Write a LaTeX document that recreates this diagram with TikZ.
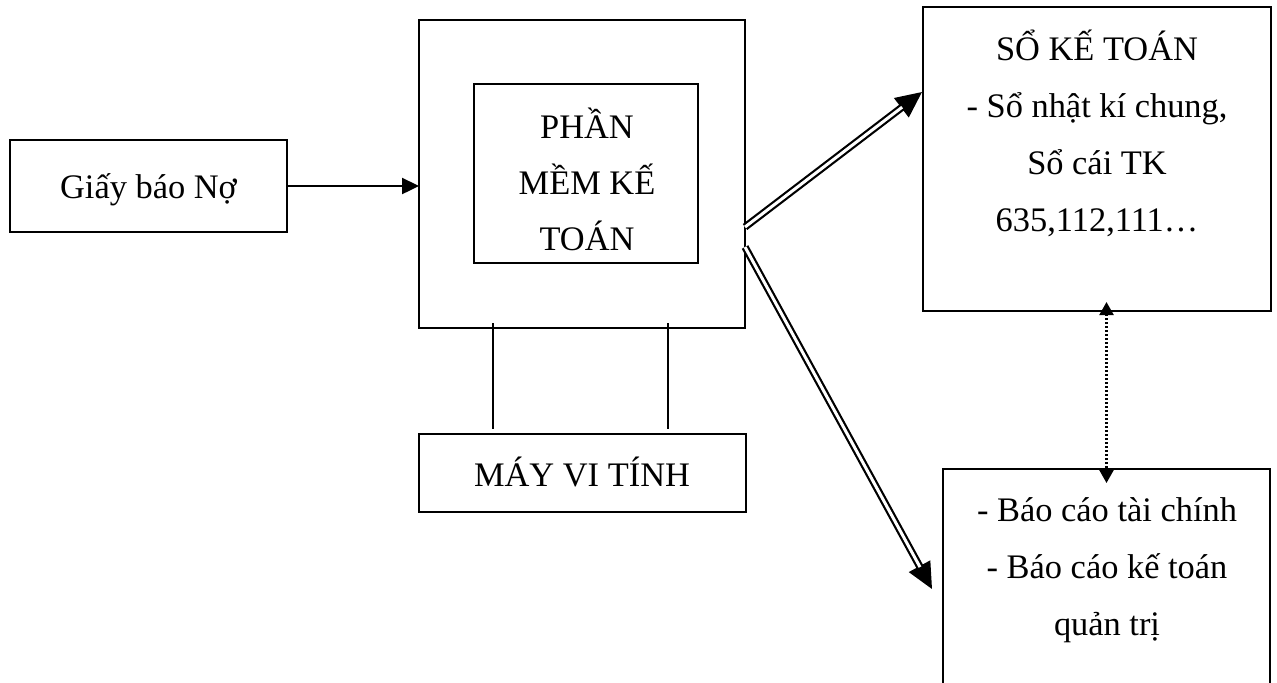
\documentclass[tikz,border=0pt]{standalone}
\usepackage{fontspec}
\setmainfont{Liberation Serif}
\usetikzlibrary{arrows.meta}
\begin{document}
\begin{tikzpicture}[x=0.5pt,y=-0.5pt,
  box/.style={draw, line width=1.2pt, inner sep=0pt, outer sep=0pt},
  lbl/.style={anchor=base, inner sep=0pt, font=\fontsize{17.2}{20}\selectfont},
  link/.style={line width=1.2pt},
  bigtip/.style={line width=1.1pt, -{Triangle[length=13pt,width=12pt]}},
  dbl/.style={line width=1.1pt, double, double distance=1.5pt, shorten >=12.5pt}]
\useasboundingbox (0,0) rectangle (1277,682);
\clip (0,0) rectangle (1277,682);

% boxes
\node[box, minimum width=138.5pt, minimum height=46pt] (giay) at (148.5,186) {};
\node[box, minimum width=163pt, minimum height=154pt] (pm) at (582,174) {};
\node[box, minimum width=112pt, minimum height=89.5pt] (pmin) at (586,173.5) {};
\node[box, minimum width=163.5pt, minimum height=39pt] (may) at (582.5,473) {};
\node[box, minimum width=174pt, minimum height=152pt] (so) at (1097,159) {};
\node[box, minimum width=163.5pt, minimum height=121pt] (bc) at (1106.5,590) {};

% texts
\node[lbl] (t1) at (148.5,198) {Giấy báo Nợ};
\node[lbl] (t2) at (587,138) {PHẦN};
\node[lbl] (t3) at (587,194) {MỀM KẾ};
\node[lbl] (t4) at (587,250) {TOÁN};
\node[lbl] (t5) at (582,486) {MÁY VI TÍNH};
\node[lbl] (t6) at (1097,60) {SỔ KẾ TOÁN};
\node[lbl] (t7) at (1097,117) {- Sổ nhật kí chung,};
\node[lbl] (t8) at (1097,174) {Sổ cái TK};
\node[lbl] (t9) at (1097,231) {635,112,111…};
\node[lbl] (t10) at (1107,521) {- Báo cáo tài chính};
\node[lbl] (t11) at (1107,578) {- Báo cáo kế toán};
\node[lbl] (t12) at (1107,635) {quản trị};

% input arrow
\draw[link, -{Triangle[length=8.5pt,width=8pt]}] (giay.east) -- (giay.east -| pm.west);

% links to the computer
\draw[link] ([xshift=37pt,yshift=2.5pt]pm.south west) -- ([xshift=37pt,yshift=2.5pt]may.north west);
\draw[link] ([xshift=124.5pt,yshift=2.5pt]pm.south west) -- ([xshift=124.5pt,yshift=2.5pt]may.north west);

% double arrows to the books and reports
\coordinate (s1) at ([yshift=-26.5pt]pm.east);
\coordinate (e1) at ([xshift=-0.5pt,yshift=33.5pt]so.west);
\coordinate (s2) at ([yshift=-36.5pt]pm.east);
\coordinate (e2) at ([xshift=-5.5pt,yshift=0.5pt]bc.west);
\draw[bigtip] (s1) -- (e1);
\draw[dbl] (s1) -- (e1);
\draw[bigtip] (s2) -- (e2);
\draw[dbl] (s2) -- (e2);

% dotted two-way link
\draw[line width=1.1pt, dash pattern=on 1pt off 1pt,
  {Triangle[length=6.5pt,width=7pt]}-{Triangle[length=6.5pt,width=7pt]}]
  ([yshift=4.5pt]bc.north |- so.south) -- ([yshift=-7pt]bc.north);
\end{tikzpicture}
\end{document}
